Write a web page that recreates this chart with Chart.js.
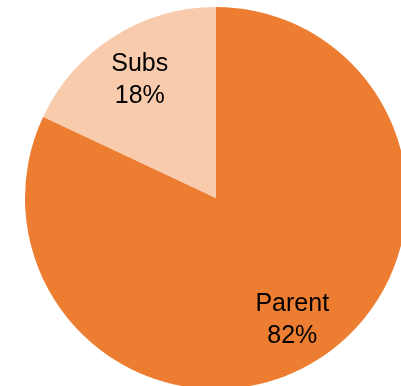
<!DOCTYPE html>
<html>
<head>
<meta charset="utf-8">
<script src="https://cdn.jsdelivr.net/npm/chart.js@4/dist/chart.umd.min.js"></script>
<style>
  html, body { margin: 0; padding: 0; background: #fff; overflow: hidden; }
  #wrap { width: 401px; height: 386px; }
</style>
</head>
<body>
<div id="wrap"><canvas id="myChart" width="401" height="386"></canvas></div>
<script>
var labels = ["Parent", "Subs"];
var values = [82, 18];
var colors = ["#ED7D31", "#F8CBAD"];

// writes "name" and "xx%" on two lines inside each slice
var sliceLabels = {
    id: "sliceLabels",
    afterDatasetsDraw: function (chart) {
        var ctx = chart.ctx;
        var meta = chart.getDatasetMeta(0);
        var total = values.reduce(function (a, b) { return a + b; }, 0);
        ctx.save();
        ctx.fillStyle = "#000";
        ctx.font = "25px 'Liberation Sans', Arial, sans-serif";
        ctx.textAlign = "center";
        ctx.textBaseline = "alphabetic";
        meta.data.forEach(function (arc, i) {
            var p = arc.getProps(["x", "y", "startAngle", "endAngle", "outerRadius"], true);
            var mid = (p.startAngle + p.endAngle) / 2;
            var r = p.outerRadius * 0.745;
            var cx = p.x + Math.cos(mid) * r;
            var cy = p.y + Math.sin(mid) * r;
            var pct = Math.round(values[i] / total * 100) + "%";
            ctx.fillText(labels[i], cx, cy - 7);
            ctx.fillText(pct, cx, cy + 25);
        });
        ctx.restore();
    }
};

document.addEventListener("DOMContentLoaded", function () {
    var ctx = document.getElementById("myChart").getContext("2d");
    new Chart(ctx, {
        type: "pie",
        data: {
            labels: labels,
            datasets: [
                {
                    data: values,
                    backgroundColor: colors,
                    borderWidth: 0,
                    hoverOffset: 0,
                    clip: false,
                },
            ],
        },
        options: {
            responsive: false,
            animation: false,
            radius: 191,
            layout: { padding: { left: 31, right: 0, top: 10, bottom: 0 } },
            plugins: {
                legend: { display: false },
                tooltip: { enabled: false },
            },
        },
        plugins: [sliceLabels],
    });
});
</script>
</body>
</html>
